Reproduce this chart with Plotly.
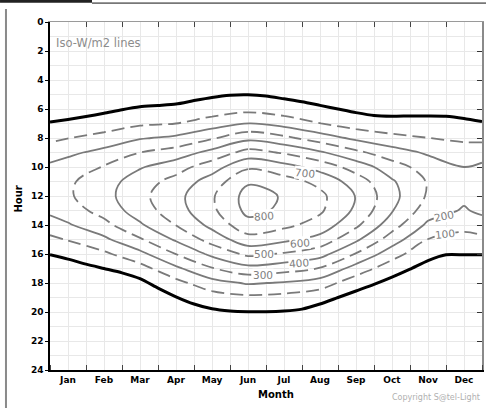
import plotly.graph_objects as go

# ---------------- data ----------------
MONTHS = ['Jan', 'Feb', 'Mar', 'Apr', 'May', 'Jun', 'Jul', 'Aug', 'Sep', 'Oct', 'Nov', 'Dec']
MONTH_POS = [0.5, 1.5, 2.5, 3.5, 4.5, 5.5, 6.5, 7.5, 8.5, 9.5, 10.5, 11.5]
HOUR_TICKS = [0, 2, 4, 6, 8, 10, 12, 14, 16, 18, 20, 22, 24]

# columns of the irradiance grid (year position, in months)
GRID_X = [0, 0.5, 1.5, 2.5, 3.5, 4.5, 5.5, 6.5, 7.5, 8.5, 9.5, 10.5, 11.5, 12]
HOURS = [4, 5, 6, 7, 8, 9, 10, 11, 12, 13, 14, 15, 16, 17, 18, 19, 20, 21]
# W/m2, one row per hour (estimated from the iso-lines)
IRRADIANCE = [
    [0, 0, 0, 0, 0, 0, 0, 0, 0, 0, 0, 0, 0, 0],
    [0, 0, 0, 0, 0, 0, 0, 0, 0, 0, 0, 0, 0, 0],
    [0, 0, 0, 5, 12, 43, 69, 41, 8, 0, 0, 0, 0, 0],
    [4, 16, 45, 84, 100, 152, 205, 164, 103, 52, 29, 24, 14, 4],
    [77, 97, 136, 191, 220, 289, 371, 323, 250, 178, 129, 101, 80, 77],
    [155, 179, 229, 299, 346, 431, 538, 489, 414, 323, 244, 186, 150, 155],
    [219, 245, 306, 391, 457, 556, 684, 636, 562, 456, 345, 255, 200, 219],
    [255, 284, 354, 452, 535, 645, 788, 742, 672, 553, 412, 292, 226, 255],
    [256, 287, 365, 473, 569, 688, 837, 792, 724, 596, 432, 288, 222, 256],
    [221, 254, 336, 450, 556, 679, 827, 783, 715, 581, 407, 248, 190, 221],
    [157, 189, 270, 386, 502, 628, 766, 724, 660, 520, 343, 180, 133, 157],
    [76, 106, 179, 288, 414, 540, 661, 622, 565, 419, 250, 97, 64, 76],
    [2, 22, 80, 172, 301, 424, 522, 489, 438, 293, 143, 20, 2, 2],
    [0, 0, 2, 60, 180, 293, 366, 340, 295, 158, 41, 0, 0, 0],
    [0, 0, 0, 0, 68, 162, 210, 191, 152, 40, 0, 0, 0, 0],
    [0, 0, 0, 0, 0, 51, 77, 66, 32, 0, 0, 0, 0, 0],
    [0, 0, 0, 0, 0, 0, 0, 0, 0, 0, 0, 0, 0, 0],
    [0, 0, 0, 0, 0, 0, 0, 0, 0, 0, 0, 0, 0, 0],
]

# sunrise / sunset (0 W/m2 line), every half month
SUN_X = [0, 0.5, 1, 1.5, 2, 2.5, 3, 3.5, 4, 4.5, 5, 5.5, 6, 6.5, 7, 7.5, 8, 8.5, 9, 9.5, 10, 10.5, 11, 11.5, 12]
SUNRISE = [6.9, 6.72, 6.52, 6.3, 6.05, 5.85, 5.76, 5.66, 5.42, 5.2, 5.05, 5.02, 5.1, 5.3, 5.5, 5.75, 6.0,
           6.25, 6.45, 6.5, 6.48, 6.48, 6.5, 6.65, 6.87]
SUNSET = [16.05, 16.35, 16.7, 17.0, 17.3, 17.7, 18.35, 18.95, 19.45, 19.78, 19.93, 19.98, 19.98, 19.93, 19.8,
          19.45, 19.0, 18.55, 18.1, 17.6, 17.05, 16.45, 16.05, 16.05, 16.05]

# iso-line labels: level, month position, hour
LABEL_LEVELS = [800, 700, 600, 500, 400, 300, 200, 100]
LABEL_X = [5.94, 7.08, 6.94, 5.94, 6.92, 5.92, 10.94, 10.97]
LABEL_Y = [13.4, 10.4, 15.25, 16.0, 16.6, 17.45, 13.4, 14.65]
LABEL_ANGLE = [-4, 6, -4, 0, -5, 0, -12, -6]

# ---------------- styling ----------------
FONT = 'DejaVu Sans'
GRAY = '#7a7a7a'
GRID = '#e8e8e8'

fig = go.Figure()

common = dict(x=GRID_X, y=HOURS, z=IRRADIANCE, showscale=False, hoverinfo='skip')
fig.add_trace(go.Contour(
    **common,
    contours=dict(start=100, end=700, size=200, coloring='none', showlabels=False),
    line=dict(color=GRAY, width=1.8, dash='13px,6px', smoothing=1.0),
))
fig.add_trace(go.Contour(
    **common,
    contours=dict(start=200, end=800, size=200, coloring='none', showlabels=False),
    line=dict(color=GRAY, width=1.8, smoothing=1.0),
))
for yy in (SUNRISE, SUNSET):
    fig.add_trace(go.Scatter(x=SUN_X, y=yy, mode='lines', hoverinfo='skip', showlegend=False,
                             line=dict(color='black', width=3, shape='spline', smoothing=0.6)))

# invisible trace to carry the mirror axes
fig.add_trace(go.Scatter(x=[0, 12], y=[0, 24], xaxis='x2', yaxis='y2', mode='markers',
                         marker=dict(opacity=0), hoverinfo='skip', showlegend=False))

tickfont = dict(family=FONT, size=9, color='black', weight='bold')

annotations = [
    dict(text=str(lv), x=lx, y=ly, xref='x', yref='y', showarrow=False, textangle=ang,
         bgcolor='white', borderpad=0,
         font=dict(family=FONT, size=10.5, color='#808080'))
    for lv, lx, ly, ang in zip(LABEL_LEVELS, LABEL_X, LABEL_Y, LABEL_ANGLE)
]
annotations += [
    dict(text='Iso-W/m2 lines', x=0.1, y=1.45, xref='x', yref='y', xanchor='left',
         yanchor='middle', showarrow=False, font=dict(family=FONT, size=11.5, color='#8c8c8c')),
    dict(text='Month', x=0.523, y=-0.07, xref='paper', yref='paper', xanchor='center',
         yanchor='middle', showarrow=False,
         font=dict(family=FONT, size=10, color='black', weight='bold')),
    dict(text='Hour', x=-0.074, y=0.49, xref='paper', yref='paper', xanchor='center',
         yanchor='middle', showarrow=False, textangle=-90,
         font=dict(family=FONT, size=10, color='black', weight='bold')),
    dict(text='Copyright S@tel-Light', x=1.0, y=-0.078, xref='paper', yref='paper',
         xanchor='right', yanchor='middle', showarrow=False,
         font=dict(family=FONT, size=8, color='#b0b0b0')),
]

fig.update_layout(
    width=486, height=408,
    margin=dict(l=50, r=4, t=22, b=38, autoexpand=False),
    paper_bgcolor='white', plot_bgcolor='white',
    showlegend=False,
    xaxis=dict(range=[0, 12], tickvals=MONTH_POS, ticktext=MONTHS, ticks='', showgrid=True,
               gridcolor=GRID, gridwidth=1, zeroline=False, showline=True, linecolor='black',
               linewidth=1.5, tickfont=tickfont, ticklabelstandoff=0,
               minor=dict(dtick=1, tick0=0, ticks='inside', ticklen=5, tickcolor='#444',
                          showgrid=True, gridcolor=GRID)),
    yaxis=dict(range=[24, 0], tickvals=HOUR_TICKS, ticks='outside', ticklen=3, tickcolor='black',
               showgrid=True, gridcolor=GRID, zeroline=False, showline=True, linecolor='black',
               linewidth=1.5, tickfont=tickfont,
               minor=dict(dtick=1, tick0=0, showgrid=True, gridcolor=GRID)),
    xaxis2=dict(overlaying='x', side='top', range=[0, 12], tickvals=list(range(1, 12)),
                ticks='inside', ticklen=5, tickcolor='#444', showticklabels=False, showgrid=False,
                zeroline=False, showline=True, linecolor='#9a9a9a', linewidth=1),
    yaxis2=dict(overlaying='y', side='right', range=[24, 0], tickvals=list(range(2, 24, 2)),
                ticks='inside', ticklen=5, tickcolor='#333', showticklabels=False, showgrid=False,
                zeroline=False, showline=True, linecolor='#8a8a8a', linewidth=1.5),
    annotations=annotations,
    shapes=[
        # page frame: dark tab at top-left, thin top rule, left rule
        dict(type='rect', xref='paper', yref='paper', x0=-0.1157, x1=0.0972, y0=1.0555, y1=1.0632,
             fillcolor='#222222', line=dict(width=0), layer='above'),
        dict(type='rect', xref='paper', yref='paper', x0=0.0972, x1=1.01, y0=1.0520, y1=1.0565,
             fillcolor='#777777', line=dict(width=0), layer='above'),
        dict(type='line', xref='paper', yref='paper', x0=-0.1019, x1=-0.1019, y0=1.037, y1=-0.11,
             line=dict(color='#8a8a8a', width=2)),
    ],
)

fig.write_html("out.html", config={'displayModeBar': False},
               post_script="document.body.style.margin='0';document.body.style.overflow='hidden';")
